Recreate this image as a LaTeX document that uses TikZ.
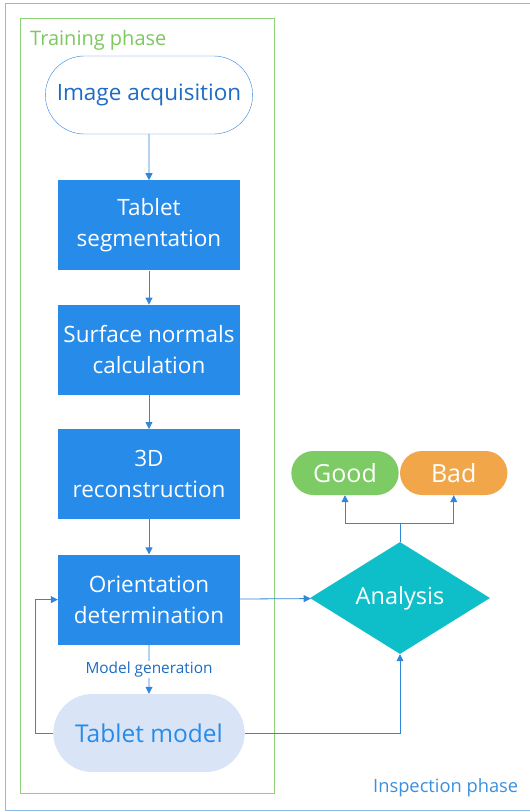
\documentclass[tikz,border=0pt]{standalone}
\usepackage{fontspec}
\setmainfont{Open Sans}
\usetikzlibrary{arrows.meta,positioning,shapes.misc,shapes.geometric}
\definecolor{stepblue}{HTML}{268BE9}
\definecolor{linkblue}{HTML}{2F86DB}
\definecolor{modelfill}{HTML}{DAE4F7}
\definecolor{goodgreen}{HTML}{7CCB64}
\definecolor{badorange}{HTML}{F2A64A}
\definecolor{analysisteal}{HTML}{0EBFC9}
\definecolor{trainframe}{HTML}{8FD27A}
\definecolor{traintext}{HTML}{7CC85F}
\definecolor{inspframe}{HTML}{8BBCEB}
\definecolor{insptext}{HTML}{3A8FE0}
\definecolor{labelblue}{HTML}{1E6CC4}

\begin{document}
\begin{tikzpicture}[
  x=1pt,y=-1pt,
  node distance=34pt,
  every node/.style={font=\fontsize{22.5}{31}\selectfont,align=center},
  startnode/.style={rounded rectangle,draw=linkblue,fill=white,text=labelblue,minimum width=214pt,minimum height=78pt},
  stepnode/.style={rectangle,fill=stepblue,text=white,minimum width=182pt,minimum height=90pt},
  modelnode/.style={rounded rectangle,fill=modelfill,text=stepblue,minimum width=198pt,minimum height=78pt,font=\fontsize{24.5}{30}\selectfont},
  resultnode/.style={rounded rectangle,text=white,minimum width=114pt,minimum height=44pt,font=\fontsize{25}{30}\selectfont},
  decisionnode/.style={diamond,fill=analysisteal,text=white,inner sep=0pt,minimum width=180pt,minimum height=107pt,font=\fontsize{23.5}{28}\selectfont},
  phaselabel/.style={anchor=west,inner sep=0pt},
  arrow/.style={-{Triangle[length=7pt,width=7pt]},draw=linkblue,line width=0.8pt}
]
\useasboundingbox (0,0) rectangle (530,812);

% phase frames
\draw[inspframe,line width=0.8pt] (5,3) rectangle (540,810);
\draw[trainframe,line width=0.8pt] (20,18) rectangle (274,793);
\node[phaselabel,text=traintext,font=\fontsize{20}{24}\selectfont] (trainlabel) at (30,40) {Training phase};
\node[phaselabel,text=insptext,font=\fontsize{18.3}{22}\selectfont] (insplabel) at (373,788) {Inspection phase};

% training steps
\node[startnode] (acquire) at (149,95) {Image acquisition};
\node[stepnode,below=46pt of acquire] (segment) {Tablet\\segmentation};
\node[stepnode,below=of segment] (normals) {Surface normals\\calculation};
\node[stepnode,below=of normals] (recon) {3D\\reconstruction};
\node[stepnode,below=35pt of recon] (orient) {Orientation\\determination};
\node[modelnode,below=49pt of orient] (model) {Tablet model};

% inspection
\node[decisionnode] (analysis) at (400,598) {Analysis};
\node[resultnode,fill=goodgreen] (good) at (345,473) {Good};
\node[resultnode,fill=badorange,right=1pt of good] (bad) {Bad};

\draw[arrow] (acquire) -- (segment);
\draw[arrow] (segment) -- (normals);
\draw[arrow] (normals) -- (recon);
\draw[arrow] (recon) -- (orient);
\draw[arrow] (orient) -- node[font=\fontsize{15.4}{18}\selectfont,text=labelblue,fill=white,inner sep=1pt]{Model generation} (model);
\draw[arrow] (model.west) -- ++(-18,0) |- (orient.west);
\draw[arrow] (orient) -- (analysis);
\draw[arrow] (model) -| (analysis);
\draw[arrow] (analysis.north) -- ++(0,-18) -| (good);
\draw[arrow] (analysis.north) -- ++(0,-18) -| (bad);
\end{tikzpicture}
\end{document}
